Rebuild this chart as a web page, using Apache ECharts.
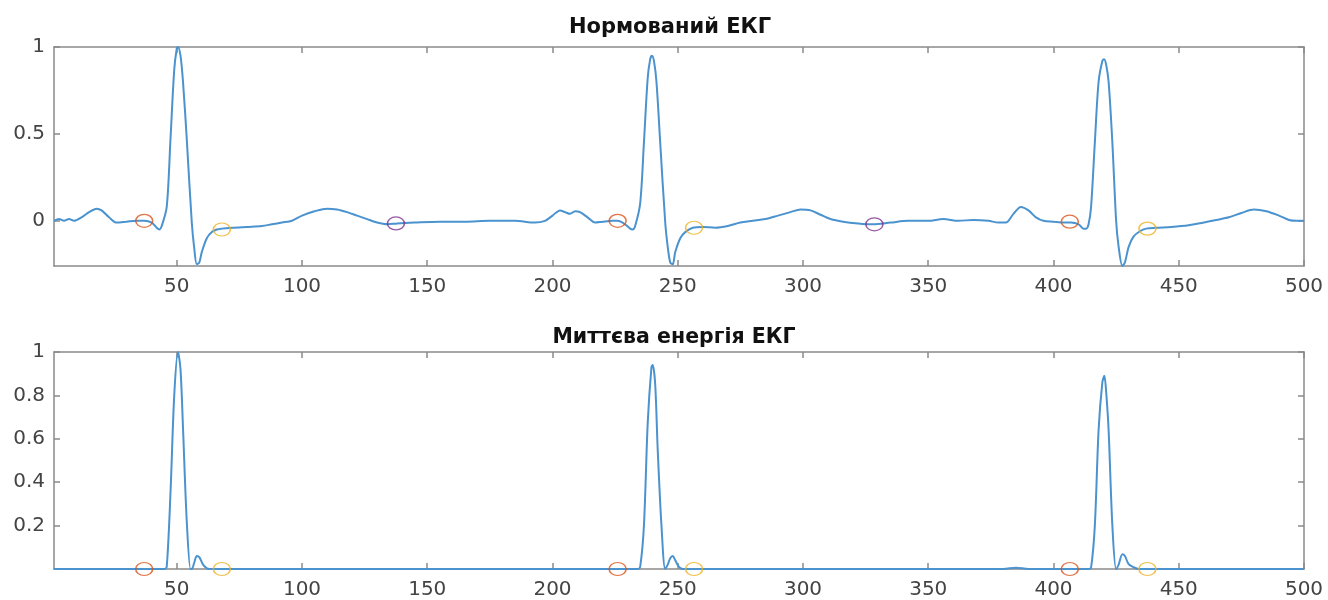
<!DOCTYPE html>
<html>
<head>
<meta charset="utf-8">
<script src="https://cdn.jsdelivr.net/npm/echarts@6/dist/echarts.min.js"></script>
<style>
  html, body { margin: 0; padding: 0; background: #fff; }
  #chart { width: 1328px; height: 600px; }
</style>
</head>
<body>
<div id="chart"></div>
<script>
// Titles
var titleTop = 'Нормований ЕКГ';
var titleBottom = 'Миттєва енергія ЕКГ';

// Tick labels
var xTicks = [50, 100, 150, 200, 250, 300, 350, 400, 450, 500];
var yTicksTop = [0, 0.5, 1];
var yTicksBottom = [0.2, 0.4, 0.6, 0.8, 1];

// Normalised ECG (sample index, value)
var ecgX = [1, 3, 5, 7, 9, 12, 15, 18, 20, 23, 26, 30, 34, 37, 40, 42, 43, 44, 46, 47.5, 49, 50, 50.5, 51.5, 52.5, 54, 56, 57, 58, 59, 60, 62, 64, 66, 68, 72, 78, 84, 88, 92, 96, 100, 105, 110, 114, 118, 122, 126, 130, 134, 138, 145, 155, 165, 175, 185, 193, 197, 200, 203, 205, 207, 209, 211, 214, 217, 220, 224, 226, 229, 231, 232, 233, 235, 236.5, 238, 239, 239.7, 240.5, 241.5, 243, 245, 246, 247, 248, 249, 251, 253, 256, 260, 265, 270, 275, 280, 285, 290, 295, 299, 303, 307, 311, 316, 322, 328, 335, 342, 350, 356, 362, 368, 374, 378, 381, 384, 387, 390, 393, 396, 400, 404, 407, 410, 412, 413, 414, 415, 416.5, 418, 419.5, 420.2, 421, 422, 423.5, 425, 426, 427.5, 428.5, 430, 432, 434.5, 437, 441, 447, 454, 460, 465, 470, 475, 480, 485, 490, 494, 497, 500];
var ecgY = [0.0, 0.01, 0.0, 0.01, 0.0, 0.02, 0.05, 0.07, 0.06, 0.02, -0.01, -0.005, 0.0, 0.0, -0.01, -0.04, -0.05, -0.03, 0.08, 0.47, 0.87, 0.99, 1.0, 0.95, 0.8, 0.47, -0.01, -0.16, -0.25, -0.24, -0.18, -0.10, -0.065, -0.05, -0.045, -0.04, -0.035, -0.03, -0.02, -0.01, 0.0, 0.03, 0.055, 0.07, 0.065, 0.05, 0.03, 0.01, -0.01, -0.02, -0.015, -0.01, -0.005, -0.005, 0.0, 0.0, -0.01, 0.0, 0.03, 0.06, 0.05, 0.04, 0.055, 0.05, 0.02, -0.01, -0.005, 0.0, 0.0, -0.02, -0.045, -0.05, -0.03, 0.1, 0.45, 0.82, 0.93, 0.95, 0.92, 0.8, 0.45, -0.01, -0.15, -0.24, -0.25, -0.18, -0.1, -0.065, -0.04, -0.035, -0.04, -0.03, -0.01, 0.0, 0.01, 0.03, 0.05, 0.065, 0.06, 0.035, 0.01, -0.005, -0.015, -0.02, -0.01, 0.0, 0.0, 0.01, 0.0, 0.005, 0.0, -0.01, -0.01, 0.04, 0.08, 0.06, 0.02, 0.0, -0.005, -0.01, -0.01, -0.02, -0.045, -0.045, -0.02, 0.08, 0.45, 0.8, 0.92, 0.93, 0.9, 0.8, 0.45, 0.0, -0.15, -0.26, -0.24, -0.15, -0.09, -0.06, -0.045, -0.04, -0.035, -0.025, -0.01, 0.005, 0.02, 0.045, 0.065, 0.055, 0.03, 0.005, 0.0, 0.0];

// Instantaneous energy (sample index, value)
var energyX = [1, 40, 45, 46, 47.5, 49, 50.5, 51.5, 52.5, 54, 55.5, 56, 57, 58, 59, 60.5, 62, 63, 234, 235, 236.5, 238, 239.5, 240, 241, 242, 243.5, 245, 246, 247, 248, 249, 250.5, 252, 380, 385, 390, 414, 415, 416.5, 418, 419.5, 420.3, 421, 422, 423.5, 425, 426, 427.5, 428.5, 430, 432, 434, 500];
var energyY = [0, 0, 0, 0.01, 0.35, 0.8, 1.0, 0.92, 0.65, 0.22, 0.0, 0.0, 0.03, 0.06, 0.055, 0.02, 0.003, 0, 0, 0.01, 0.2, 0.67, 0.93, 0.94, 0.85, 0.55, 0.2, 0.0, 0.02, 0.05, 0.06, 0.04, 0.01, 0, 0, 0.006, 0, 0, 0.006, 0.2, 0.64, 0.86, 0.89, 0.82, 0.64, 0.2, 0.0, 0.02, 0.068, 0.06, 0.022, 0.008, 0, 0];

// Marker points
var onsetX = [37, 226, 406.5];
var onsetY = [0.0, 0.0, -0.005];
var endX = [68, 256.5, 437.5];
var endY = [-0.05, -0.04, -0.045];
var midX = [137.5, 328.5];
var midY = [-0.015, -0.02];

var lineColor = '#4a93cf';
var axisColor = '#8a8a8a';
var labelColor = '#444';

function pairs(xs, ys) {
	var out = [];
	for (var i = 0; i < xs.length; i++) out.push([xs[i], ys[i]]);
	return out;
}

function zeros(xs) {
	return xs.map(function (x) { return [x, 0]; });
}

// box-style axes, labels only on bottom/left
function makeXAxis(grid, pos, labels) {
	return {
		type: 'value', gridIndex: grid, position: pos, min: 1, max: 500,
		axisLine: { show: true, onZero: false, lineStyle: { color: axisColor, width: 1.5 } },
		axisTick: { show: true, inside: true, length: 6, customValues: xTicks, lineStyle: { color: axisColor, width: 1.5 } },
		axisLabel: { show: labels, customValues: xTicks, margin: 11, color: labelColor, fontSize: 20, fontFamily: 'DejaVu Sans' },
		splitLine: { show: false }
	};
}

function makeYAxis(grid, pos, labels, min, ticks) {
	return {
		type: 'value', gridIndex: grid, position: pos, min: min, max: 1,
		axisLine: { show: true, onZero: false, lineStyle: { color: axisColor, width: 1.5 } },
		axisTick: { show: true, inside: true, length: 6, customValues: ticks, lineStyle: { color: axisColor, width: 1.5 } },
		axisLabel: { show: labels, customValues: ticks, margin: 9, color: labelColor, fontSize: 20, fontFamily: 'DejaVu Sans' },
		splitLine: { show: false }
	};
}

function markerSeries(x, y, data, color) {
	return {
		type: 'scatter', xAxisIndex: x, yAxisIndex: y, data: data,
		symbol: 'circle', symbolSize: [17, 13], z: 5,
		itemStyle: { color: 'rgba(255,255,255,0)', borderColor: color, borderWidth: 1.4 }
	};
}

var chart = echarts.init(document.getElementById('chart'), null, { renderer: 'canvas' });

chart.setOption({
	animation: false,
	title: [
		{ text: titleTop, left: 665, top: 12, textAlign: 'center',
		  textStyle: { fontSize: 21, fontWeight: 'bold', color: '#111', fontFamily: 'DejaVu Sans' } },
		{ text: titleBottom, left: 669, top: 322, textAlign: 'center',
		  textStyle: { fontSize: 20.5, fontWeight: 'bold', color: '#111', fontFamily: 'DejaVu Sans' } }
	],
	grid: [
		{ left: 54, right: 24, top: 47, height: 219 },
		{ left: 54, right: 24, top: 352, height: 222 }
	],
	xAxis: [
		makeXAxis(0, 'bottom', true), makeXAxis(0, 'top', false),
		makeXAxis(1, 'bottom', true), makeXAxis(1, 'top', false)
	],
	yAxis: [
		makeYAxis(0, 'left', true, -0.26, yTicksTop), makeYAxis(0, 'right', false, -0.26, yTicksTop),
		makeYAxis(1, 'left', true, 0, yTicksBottom), makeYAxis(1, 'right', false, 0, yTicksBottom)
	],
	series: [
		{ type: 'line', xAxisIndex: 0, yAxisIndex: 0, data: pairs(ecgX, ecgY), showSymbol: false,
		  smooth: 0.3, clip: true, lineStyle: { color: lineColor, width: 2 } },
		{ type: 'line', xAxisIndex: 2, yAxisIndex: 2, data: pairs(energyX, energyY), showSymbol: false,
		  smooth: 0.3, clip: true, lineStyle: { color: lineColor, width: 2 } },
		markerSeries(0, 0, pairs(onsetX, onsetY), '#D95319'),
		markerSeries(0, 0, pairs(endX, endY), '#EDB120'),
		markerSeries(0, 0, pairs(midX, midY), '#7E2F8E'),
		markerSeries(2, 2, zeros(onsetX), '#D95319'),
		markerSeries(2, 2, zeros(endX), '#EDB120')
	]
});
</script>
</body>
</html>
